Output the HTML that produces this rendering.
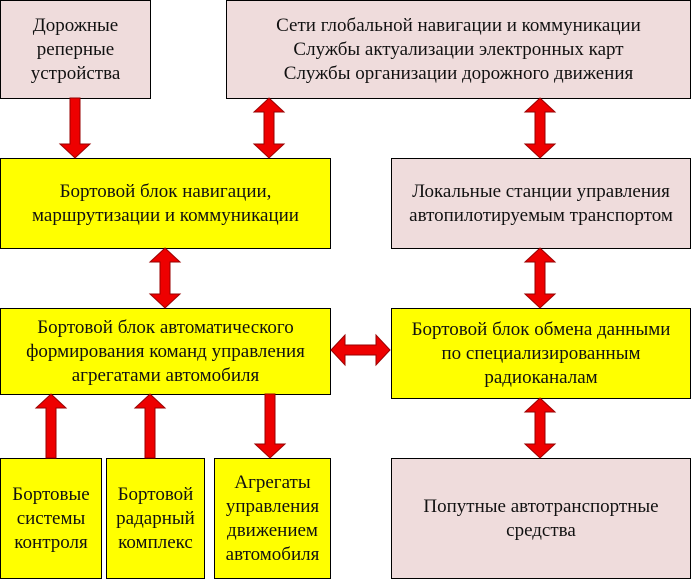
<!DOCTYPE html>
<html><head><meta charset="utf-8"><style>
body{margin:0;width:691px;height:579px;background:#fff;position:relative;overflow:hidden;}
.b{position:absolute;box-sizing:border-box;border:1px solid #000;display:flex;align-items:center;justify-content:center;text-align:center;font-family:"Liberation Serif","DejaVu Serif","Noto Serif CJK SC",serif;font-size:19px;line-height:24px;color:#111;}
.p{background:#efdcdc}.y{background:#ffff00}
svg{position:absolute;left:0;top:0}
</style></head><body>
<div class="b p" style="left:0;top:0;width:151px;height:99px">Дорожные<br>реперные<br>устройства</div>
<div class="b p" style="left:226px;top:0;width:465px;height:99px">Сети глобальной навигации и коммуникации<br>Службы актуализации электронных карт<br>Службы организации дорожного движения</div>
<div class="b y" style="left:0;top:158px;width:331px;height:91px">Бортовой блок навигации,<br>маршрутизации и коммуникации</div>
<div class="b p" style="left:391px;top:158px;width:300px;height:91px">Локальные станции управления<br>автопилотируемым транспортом</div>
<div class="b y" style="left:0;top:308px;width:331px;height:87px">Бортовой блок автоматического<br>формирования команд управления<br>агрегатами автомобиля</div>
<div class="b y" style="left:391px;top:308px;width:300px;height:91px">Бортовой блок обмена данными<br>по специализированным<br>радиоканалам</div>
<div class="b y" style="left:0;top:458px;width:102px;height:121px">Бортовые<br>системы<br>контроля</div>
<div class="b y" style="left:106px;top:458px;width:99px;height:121px">Бортовой<br>радарный<br>комплекс</div>
<div class="b y" style="left:214px;top:458px;width:117px;height:121px">Агрегаты<br>управления<br>движением<br>автомобиля</div>
<div class="b p" style="left:391px;top:458px;width:300px;height:121px">Попутные автотранспортные<br>средства</div>
<svg width="691" height="579" viewBox="0 0 691 579">
<g fill="#ee0000" stroke="#990000" stroke-width="1">
<polygon points="70,98 80,98 80,144 90,144 75,158 60,144 70,144"/>
<polygon points="269,98 284,112 274,112 274,144 284,144 269,158 254,144 264,144 264,112 254,112"/>
<polygon points="540,98 555,112 545,112 545,144 555,144 540,158 525,144 535,144 535,112 525,112"/>
<polygon points="165,248 180,262 170,262 170,294 180,294 165,308 150,294 160,294 160,262 150,262"/>
<polygon points="540,248 555,262 545,262 545,294 555,294 540,308 525,294 535,294 535,262 525,262"/>
<polygon points="331,350 345,335 345,345 376,345 376,335 390,350 376,365 376,355 345,355 345,365"/>
<polygon points="540,398 555,412 545,412 545,444 555,444 540,458 525,444 535,444 535,412 525,412"/>
<polygon points="51,394 66,408 56,408 56,458 46,458 46,408 36,408"/>
<polygon points="150,394 165,408 155,408 155,458 145,458 145,408 135,408"/>
<polygon points="265,394 275,394 275,444 285,444 270,458 255,444 265,444"/>
</g></svg>
</body></html>
